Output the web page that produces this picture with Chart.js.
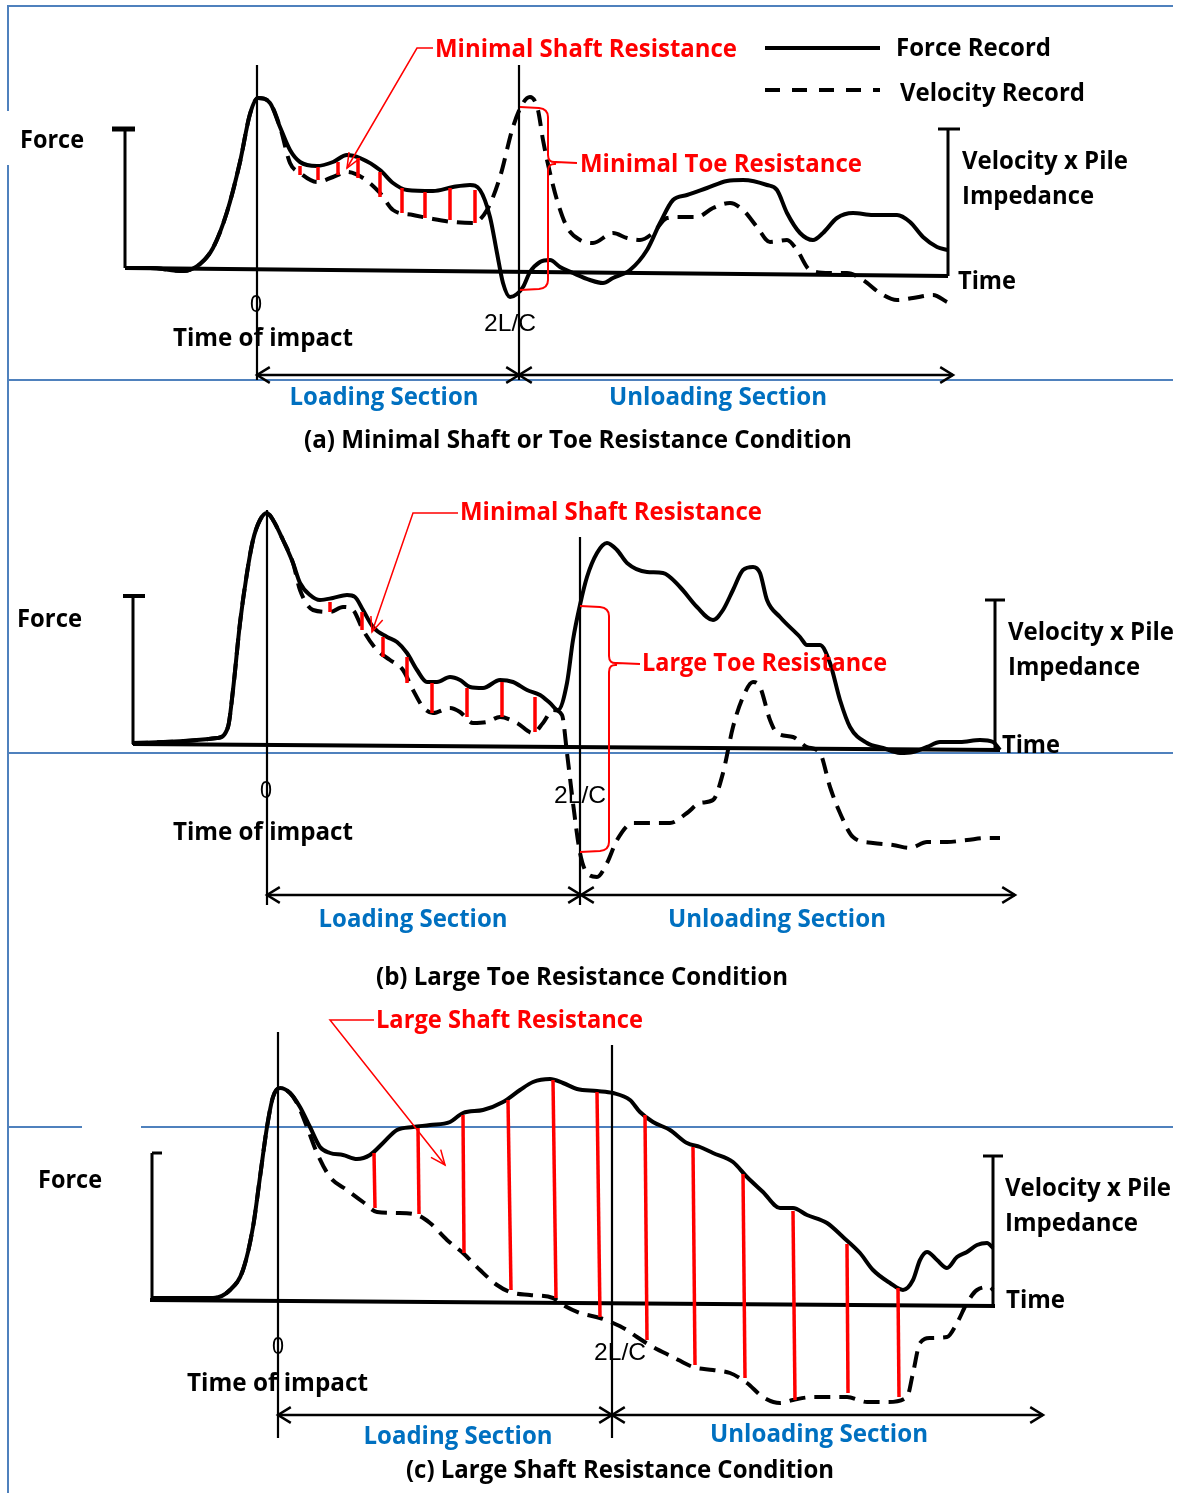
<!DOCTYPE html>
<html>
<head>
<meta charset="utf-8">
<script src="https://cdn.jsdelivr.net/npm/chart.js@4.4.0/dist/chart.umd.min.js"></script>
<style>
html, body { margin: 0; padding: 0; background: #fff; }
#wrap { position: relative; width: 1178px; height: 1493px; overflow: hidden; }
.sep { position: absolute; background: #4F81BD; }
canvas { position: absolute; left: 0; top: 0; }
</style>
</head>
<body>
<div id="wrap">
    <div class="sep" style="left:8px;top:5px;width:1165px;height:2px"></div>
    <div class="sep" style="left:7px;top:5px;width:2px;height:106px"></div>
    <div class="sep" style="left:7px;top:165px;width:2px;height:1328px"></div>
    <div class="sep" style="left:8px;top:379px;width:1165px;height:2px"></div>
    <div class="sep" style="left:8px;top:752px;width:1165px;height:2px"></div>
    <div class="sep" style="left:8px;top:1126px;width:74px;height:2px"></div>
    <div class="sep" style="left:141px;top:1126px;width:1032px;height:2px"></div>
    <canvas id="pdaChart" width="1178" height="1493"></canvas>
</div>
<script>
// records: time counted from impact (t = 0),
// amplitude counted up from the time axis, same units in every panel

// (a) minimal shaft or toe resistance
const forceA_t = [-132,-107,-74,-57,-44,-30,-17,-7,1,13,23,33,43,60,76,90,103,123,136,150,176,196,213,223,233,240,246,253,260,266,273,283,293,303,316,333,346,356,373,390,403,416,430,450,470,486,510,520,530,543,556,566,580,596,616,640,653,666,680,691];
const forceA_v = [2,2,-1,6,22,58,108,156,172,167,143,120,108,104,108,115,112,100,87,80,79,83,85,80,53,17,-13,-27,-24,-17,-2,8,10,3,-3,-10,-13,-8,0,20,47,70,75,82,89,90,85,80,57,37,30,37,52,57,55,55,48,33,23,20];
const velA_t = [-132,-107,-74,-57,-44,-30,-17,-7,1,13,23,33,43,60,76,90,106,123,136,156,176,196,216,230,243,256,266,273,281,286,293,300,310,323,336,356,370,383,396,410,423,440,456,473,486,500,513,530,540,553,573,590,606,623,640,656,676,690];
const velA_v = [2,2,-1,6,22,58,108,156,172,167,143,107,97,88,93,98,92,77,60,55,51,48,47,60,93,143,167,173,160,130,97,70,43,30,27,37,32,30,37,52,53,53,62,67,60,43,28,30,20,0,-3,-3,-10,-23,-30,-28,-25,-32];
const redA_t = [43,61,81,101,123,145,168,193,218];
const redA_top = [104,103,108,112,98,82,78,82,80];
const redA_bot = [95,90,95,92,73,57,52,50,47];

// (b) large toe resistance
const forceB_t = [-135,-50,-39,-34,-27,-20,-14,-7,0,6,16,26,33,43,53,66,80,88,96,106,120,130,140,150,160,170,183,193,203,216,233,246,260,273,283,291,300,306,313,320,330,340,350,360,380,396,413,430,446,456,466,476,486,493,500,513,533,540,553,563,573,583,600,616,633,646,660,673,693,713,726,733];
const forceB_v = [2,7,18,55,122,172,205,225,232,225,205,182,162,150,145,147,150,148,135,118,108,103,92,75,63,63,68,65,58,57,65,63,55,50,42,35,62,105,140,168,192,202,195,182,173,172,158,138,125,135,155,175,178,172,145,128,108,100,100,82,45,18,2,-3,-8,-7,-2,3,3,5,3,-5];
const velB_t = [-135,-50,-39,-34,-27,-20,-14,-7,0,6,16,26,33,46,63,76,86,96,110,123,136,146,156,166,183,193,206,220,233,250,266,276,286,295,300,306,313,320,330,340,350,366,383,403,420,433,446,456,466,476,486,493,503,510,526,540,553,563,573,586,606,626,643,660,680,700,720,733];
const velB_v = [2,7,18,55,122,172,205,225,232,225,205,182,155,135,133,138,135,115,95,85,75,55,38,32,37,33,22,23,28,22,12,22,35,30,-8,-58,-108,-128,-132,-118,-95,-78,-78,-78,-68,-58,-55,-28,18,48,63,58,25,12,8,-2,-8,-42,-68,-92,-98,-100,-103,-97,-97,-95,-93,-93];
const redB_t = [63,95,116,140,165,200,235,268];
const redB_top = [143,133,108,88,62,57,63,48];
const redB_bot = [133,115,88,62,32,28,28,13];

// (c) large shaft resistance
const forceC_t = [-126,-65,-48,-35,-25,-18,-11,-5,2,12,22,32,42,52,65,79,92,105,119,135,152,172,185,205,225,242,255,272,285,299,319,335,352,362,375,392,409,422,435,455,469,485,502,515,529,549,565,582,595,612,625,635,642,649,659,669,679,689,699,709,715];
const forceC_v = [3,3,11,31,74,124,174,204,213,208,194,174,154,148,146,142,146,158,171,174,176,179,188,191,199,211,219,222,218,212,210,208,201,189,179,171,158,154,148,139,124,109,93,93,86,78,64,48,31,18,11,21,41,49,41,33,44,49,56,58,53];
const velC_t = [-126,-65,-48,-35,-25,-18,-11,-5,2,12,19,29,39,52,69,85,99,119,139,152,169,185,202,219,232,252,275,285,302,322,335,349,359,375,395,415,435,452,469,485,502,515,535,569,589,609,629,635,642,652,669,679,689,699,712,715];
const velC_v = [3,3,11,31,74,124,174,204,213,208,198,174,148,124,111,99,89,88,86,78,61,48,31,16,9,6,3,-4,-12,-17,-22,-29,-36,-46,-56,-66,-69,-72,-82,-96,-102,-99,-96,-96,-101,-101,-96,-72,-42,-37,-36,-22,-2,11,14,11];
const redC_t = [96,140,185,230,275,319,367,415,465,515,569,620];
const redC_tb = [97,141,186,233,278,322,369,417,467,517,570,621];
const redC_top = [148,173,186,201,221,209,186,154,127,90,57,13];
const redC_bot = [93,87,48,11,3,-16,-39,-64,-77,-99,-92,-96];

const W = 1178, H = 1493;
const RED = '#ff0000', BLUE = '#0070C0';
const LBL = 'bold 25px "Open Sans", Lato, sans-serif';
const NUM = '24px "Liberation Sans", Arial, sans-serif';

// where each panel's origin (impact, time axis) sits on the page
const PANELS = [
    { key: 'a', x0: 257, y0: 270 },
    { key: 'b', x0: 267, y0: 745 },
    { key: 'c', x0: 278, y0: 1301 }
];

// axes, impact / 2L/C markers, legend strokes
const GUIDES = {
    a: [
        { xs: [-132, 691], ys: [2, -6], w: 4 },
        { xs: [0, 0], ys: [205, -110], w: 2.2 },
        { xs: [262, 262], ys: [205, -110], w: 2.2 },
        { xs: [-145, -122], ys: [141, 141], w: 5 },
        { xs: [-132, -132], ys: [141, 2], w: 3 },
        { xs: [681, 703], ys: [141, 141], w: 3 },
        { xs: [691, 691], ys: [141, -6], w: 3 },
        { xs: [508, 623], ys: [222, 222], w: 4 },
        { xs: [508, 623], ys: [180, 180], w: 4, dash: [15, 12] }
    ],
    b: [
        { xs: [-134, 733], ys: [1, -5], w: 4 },
        { xs: [0, 0], ys: [235, -160], w: 2.2 },
        { xs: [313, 313], ys: [208, -160], w: 2.2 },
        { xs: [-144, -122], ys: [149, 149], w: 4 },
        { xs: [-134, -134], ys: [149, 1], w: 3 },
        { xs: [718, 738], ys: [145, 145], w: 3 },
        { xs: [728, 728], ys: [145, -3], w: 3 }
    ],
    c: [
        { xs: [-128, 717], ys: [1, -5], w: 4 },
        { xs: [0, 0], ys: [269, -137], w: 2.2 },
        { xs: [334, 334], ys: [256, -137], w: 2.2 },
        { xs: [-116, -126], ys: [148, 148], w: 3 },
        { xs: [-126, -126], ys: [148, 1], w: 3 },
        { xs: [705, 725], ys: [145, 145], w: 3 },
        { xs: [715, 715], ys: [145, -5], w: 3 }
    ]
};

// text: [string, t, amplitude, kind, width on page]
const NOTES = {
    a: {
        section: { a: -105, ends: [0, 262, 696] },
        bracket: { t1: 263, tv: 291, top: 163, bot: -20, mid: 107, tEnd: 320 },
        pointer: [[176, 222], [160, 222], [90, 102]],
        texts: [
            ['Force', -237, 131, 'lbl', 64],
            ['Minimal Shaft Resistance', 178, 222, 'red', 302],
            ['Force Record', 639, 223, 'lbl', 155],
            ['Velocity Record', 643, 178, 'lbl', 185],
            ['Minimal Toe Resistance', 323, 107, 'red', 282],
            ['Velocity x Pile', 705, 110, 'lbl', 166],
            ['Impedance', 705, 75, 'lbl', 132],
            ['Time', 701, -10, 'lbl', 58],
            ['0', -1, -33, 'num', 12],
            ['2L/C', 253, -52, 'num', 52],
            ['Time of impact', -84, -67, 'lbl', 180],
            ['Loading Section', 127, -126, 'blue', 189],
            ['Unloading Section', 461, -126, 'blue', 218],
            ['(a) Minimal Shaft or Toe Resistance Condition', 321, -169, 'cap', 548]
        ]
    },
    b: {
        section: { a: -150, ends: [0, 314, 748] },
        bracket: { t1: 313, tv: 342, top: 139, bot: -107, mid: 81, tEnd: 373 },
        pointer: [[191, 232], [146, 232], [105, 113]],
        texts: [
            ['Force', -250, 127, 'lbl', 65],
            ['Minimal Shaft Resistance', 193, 234, 'red', 302],
            ['Large Toe Resistance', 375, 83, 'red', 245],
            ['Velocity x Pile', 741, 114, 'lbl', 166],
            ['Impedance', 741, 79, 'lbl', 132],
            ['Time', 735, 1, 'lbl', 58],
            ['0', -1, -44, 'num', 12],
            ['2L/C', 313, -49, 'num', 52],
            ['Time of impact', -94, -86, 'lbl', 180],
            ['Loading Section', 146, -173, 'blue', 189],
            ['Unloading Section', 510, -173, 'blue', 218],
            ['(b) Large Toe Resistance Condition', 315, -231, 'cap', 412]
        ]
    },
    c: {
        section: { a: -114, ends: [0, 334, 765] },
        bracket: null,
        pointer: [[96, 281], [52, 281], [167, 136]],
        texts: [
            ['Force', -240, 122, 'lbl', 64],
            ['Large Shaft Resistance', 98, 282, 'red', 267],
            ['Velocity x Pile', 727, 114, 'lbl', 166],
            ['Impedance', 727, 79, 'lbl', 133],
            ['Time', 728, 2, 'lbl', 59],
            ['0', 0, -44, 'num', 12],
            ['2L/C', 342, -50, 'num', 52],
            ['Time of impact', -91, -81, 'lbl', 181],
            ['Loading Section', 180, -134, 'blue', 189],
            ['Unloading Section', 541, -132, 'blue', 218],
            ['(c) Large Shaft Resistance Condition', 342, -168, 'cap', 428]
        ]
    }
};

var datasets = [];
function addLine(key, xs, ys, style) {
    datasets.push(Object.assign({
        data: xs.map(function (x, i) { return { x: x, y: ys[i] }; }),
        xAxisID: 'x' + key,
        yAxisID: 'y' + key,
        borderColor: '#000',
        borderWidth: 4,
        pointRadius: 0,
        fill: false,
        tension: 0,
        order: 2
    }, style || {}));
}

function addPanel(key, fT, fV, vT, vV, rT, rTb, rTop, rBot) {
    addLine(key, fT, fV, { cubicInterpolationMode: 'monotone', label: 'Force Record' });
    addLine(key, vT, vV, { cubicInterpolationMode: 'monotone', borderDash: [16, 9], label: 'Velocity Record' });
    rT.forEach(function (t, i) {
        addLine(key, [t, rTb[i]], [rTop[i], rBot[i]], { borderColor: RED, borderWidth: 3.5, order: 0 });
    });
    GUIDES[key].forEach(function (g) {
        addLine(key, g.xs, g.ys, { borderWidth: g.w, borderDash: g.dash || [], order: 1 });
    });
}
addPanel('a', forceA_t, forceA_v, velA_t, velA_v, redA_t, redA_t, redA_top, redA_bot);
addPanel('b', forceB_t, forceB_v, velB_t, velB_v, redB_t, redB_t, redB_top, redB_bot);
addPanel('c', forceC_t, forceC_v, velC_t, velC_v, redC_t, redC_tb, redC_top, redC_bot);

var scales = {};
PANELS.forEach(function (p) {
    scales['x' + p.key] = { type: 'linear', display: false, min: -p.x0, max: W - p.x0 };
    scales['y' + p.key] = { type: 'linear', display: false, min: p.y0 - H, max: p.y0 };
});

function openHead(ctx, x1, y1, x2, y2, len, ang) {
    var a = Math.atan2(y2 - y1, x2 - x1);
    ctx.beginPath();
    ctx.moveTo(x2 - len * Math.cos(a - ang), y2 - len * Math.sin(a - ang));
    ctx.lineTo(x2, y2);
    ctx.lineTo(x2 - len * Math.cos(a + ang), y2 - len * Math.sin(a + ang));
    ctx.stroke();
}

// text squeezed or widened to the width it has in the figure
function fitText(ctx, str, x, y, align, width) {
    var natural = ctx.measureText(str).width;
    var sx = width ? width / natural : 1;
    ctx.save();
    ctx.translate(x, y + 2);
    ctx.scale(sx, 1);
    ctx.textAlign = align;
    ctx.fillText(str, 0, 0);
    ctx.restore();
}

var overlay = {
    id: 'overlay',
    afterDatasetsDraw: function (chart) {
        var ctx = chart.ctx;
        PANELS.forEach(function (p) {
            var X = function (t) { return chart.scales['x' + p.key].getPixelForValue(t); };
            var Y = function (a) { return chart.scales['y' + p.key].getPixelForValue(a); };
            var n = NOTES[p.key];
            ctx.save();

            // loading / unloading arrows
            var s = n.section, ys = Y(s.a);
            ctx.strokeStyle = '#000';
            ctx.lineWidth = 2.5;
            for (var i = 0; i < 2; i++) {
                var xa = X(s.ends[i]), xb = X(s.ends[i + 1]);
                ctx.beginPath(); ctx.moveTo(xa, ys); ctx.lineTo(xb, ys); ctx.stroke();
                openHead(ctx, xb, ys, xa, ys, 15, 0.55);
                openHead(ctx, xa, ys, xb, ys, 15, 0.55);
            }

            // toe resistance brace
            if (n.bracket) {
                var b = n.bracket;
                var x1 = X(b.t1), xv = X(b.tv), xe = X(b.tEnd);
                var yt = Y(b.top), yb = Y(b.bot), ym = Y(b.mid);
                ctx.strokeStyle = RED;
                ctx.lineWidth = 2;
                ctx.beginPath();
                ctx.moveTo(x1, yt);
                ctx.lineTo(xv - 9, yt + 1);
                ctx.quadraticCurveTo(xv, yt + 2, xv, yt + 10);
                ctx.lineTo(xv, ym - 8);
                ctx.quadraticCurveTo(xv, ym, xv + 8, ym - 1);
                ctx.lineTo(xe, ym);
                ctx.moveTo(xv + 8, ym + 1);
                ctx.quadraticCurveTo(xv, ym, xv, ym + 8);
                ctx.lineTo(xv, yb - 10);
                ctx.quadraticCurveTo(xv, yb - 2, xv - 9, yb - 1);
                ctx.lineTo(x1, yb);
                ctx.stroke();
            }

            // callout pointer
            var pt = n.pointer;
            ctx.strokeStyle = RED;
            ctx.lineWidth = 1.5;
            ctx.beginPath();
            ctx.moveTo(X(pt[0][0]), Y(pt[0][1]));
            ctx.lineTo(X(pt[1][0]), Y(pt[1][1]));
            ctx.lineTo(X(pt[2][0]), Y(pt[2][1]));
            ctx.stroke();
            openHead(ctx, X(pt[1][0]), Y(pt[1][1]), X(pt[2][0]), Y(pt[2][1]), 16, 0.4);

            // labels
            ctx.textBaseline = 'middle';
            n.texts.forEach(function (tx) {
                var kind = tx[3];
                ctx.font = kind === 'num' ? NUM : LBL;
                ctx.fillStyle = kind === 'red' ? RED : (kind === 'blue' ? BLUE : '#000');
                var align = (kind === 'blue' || kind === 'cap' || kind === 'num') ? 'center' : 'left';
                fitText(ctx, tx[0], X(tx[1]), Y(tx[2]), align, tx[4]);
            });
            ctx.restore();
        });
    }
};

new Chart(document.getElementById('pdaChart'), {
    type: 'line',
    data: { datasets: datasets },
    options: {
        responsive: false,
        animation: false,
        devicePixelRatio: 1,
        layout: { padding: 0, autoPadding: false },
        plugins: { legend: { display: false }, tooltip: { enabled: false } },
        events: [],
        scales: scales
    },
    plugins: [overlay]
});
</script>
</body>
</html>
